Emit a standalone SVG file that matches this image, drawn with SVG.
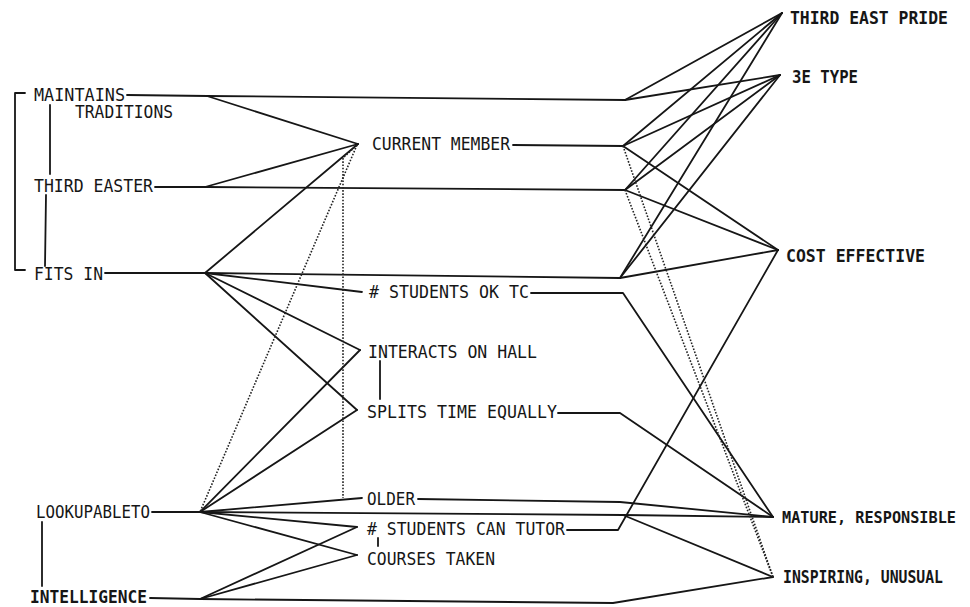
<svg xmlns="http://www.w3.org/2000/svg" width="970" height="607" viewBox="0 0 970 607">
<style>
.bg{fill:#ffffff}
.c{fill:none;stroke:#161616;stroke-width:1.8;stroke-linejoin:round;stroke-linecap:round}
.d{fill:none;stroke:#222;stroke-width:1.6;stroke-dasharray:1.6 1.6}
.t{font-family:"DejaVu Sans Mono","Liberation Mono",monospace;font-size:17px;fill:#161616}
.b{font-weight:bold}
.s{font-size:15.5px}
</style>
<rect class="bg" x="0" y="0" width="970" height="607"/>
<g id="connectors">
  <path class="c" d="M25,93 H15 V270 H25"/>
  <path class="c" d="M50,105 V174"/>
  <path class="c" d="M46,195 L45,266"/>
  <path class="c" d="M42,522 V586"/>
  <path class="c" d="M380,361 V399"/>
  <path class="c" d="M378,538 V546"/>
  <polyline class="c" points="127,95 207,96 625,100"/>
  <line class="c" x1="207" y1="96" x2="358" y2="144"/>
  <polyline class="c" points="155,187 205,187 625,190"/>
  <line class="c" x1="205" y1="187" x2="358" y2="144"/>
  <polyline class="c" points="105,273 205,273 620,278"/>
  <line class="c" x1="205" y1="273" x2="358" y2="144"/>
  <line class="c" x1="205" y1="273" x2="362" y2="292"/>
  <line class="c" x1="205" y1="273" x2="360" y2="350"/>
  <line class="c" x1="205" y1="273" x2="357" y2="410"/>
  <polyline class="c" points="152,512 200,512 623,515"/>
  <line class="c" x1="200" y1="512" x2="362" y2="498"/>
  <line class="c" x1="200" y1="512" x2="360" y2="350"/>
  <line class="c" x1="200" y1="512" x2="357" y2="410"/>
  <line class="c" x1="200" y1="512" x2="357" y2="527"/>
  <line class="c" x1="200" y1="512" x2="357" y2="555"/>
  <polyline class="c" points="150,598 200,599 613,603 773,577"/>
  <line class="c" x1="200" y1="599" x2="357" y2="527"/>
  <line class="c" x1="200" y1="599" x2="357" y2="555"/>
  <polyline class="c" points="513,145 623,146"/>
  <polyline class="c" points="531,293 623,293 773,517"/>
  <polyline class="c" points="558,413 620,413 773,517"/>
  <polyline class="c" points="418,499 620,502 773,517"/>
  <polyline class="c" points="567,530 618,530 778,250"/>
  <line class="c" x1="623" y1="515" x2="773" y2="517"/>
  <line class="c" x1="623" y1="515" x2="773" y2="577"/>
  <line class="c" x1="625" y1="100" x2="782" y2="13"/>
  <line class="c" x1="625" y1="100" x2="780" y2="75"/>
  <line class="c" x1="623" y1="146" x2="782" y2="13"/>
  <line class="c" x1="623" y1="146" x2="780" y2="75"/>
  <line class="c" x1="623" y1="146" x2="778" y2="250"/>
  <line class="c" x1="625" y1="190" x2="782" y2="13"/>
  <line class="c" x1="625" y1="190" x2="780" y2="75"/>
  <line class="c" x1="625" y1="190" x2="778" y2="250"/>
  <line class="c" x1="620" y1="278" x2="782" y2="13"/>
  <line class="c" x1="620" y1="278" x2="780" y2="75"/>
  <line class="c" x1="620" y1="278" x2="778" y2="250"/>
  <line class="d" x1="357" y1="145" x2="200" y2="512"/>
  <polyline class="d" points="357,145 343,158 343,498"/>
  <line class="d" x1="623" y1="146" x2="773" y2="577"/>
  <line class="d" x1="625" y1="190" x2="773" y2="577"/>
</g>
<g id="maintains-traditions">
  <text class="t" x="34" y="101" textLength="91" lengthAdjust="spacingAndGlyphs">MAINTAINS</text>
  <text class="t" x="75" y="118" textLength="98" lengthAdjust="spacingAndGlyphs">TRADITIONS</text>
</g>
<g id="third-easter"><text class="t" x="34" y="192" textLength="119" lengthAdjust="spacingAndGlyphs">THIRD EASTER</text></g>
<g id="fits-in"><text class="t" x="34" y="280" textLength="69" lengthAdjust="spacingAndGlyphs">FITS IN</text></g>
<g id="lookupableto"><text class="t" x="36" y="518" textLength="114" lengthAdjust="spacingAndGlyphs">LOOKUPABLETO</text></g>
<g id="intelligence"><text class="t b" x="30" y="603" textLength="117" lengthAdjust="spacingAndGlyphs">INTELLIGENCE</text></g>
<g id="current-member"><text class="t" x="372" y="150" textLength="138" lengthAdjust="spacingAndGlyphs">CURRENT MEMBER</text></g>
<g id="students-ok-tc"><text class="t" x="369" y="298" textLength="160" lengthAdjust="spacingAndGlyphs"># STUDENTS OK TC</text></g>
<g id="interacts-on-hall"><text class="t" x="368" y="358" textLength="169" lengthAdjust="spacingAndGlyphs">INTERACTS ON HALL</text></g>
<g id="splits-time-equally"><text class="t" x="367" y="418" textLength="190" lengthAdjust="spacingAndGlyphs">SPLITS TIME EQUALLY</text></g>
<g id="older"><text class="t" x="367" y="505" textLength="48" lengthAdjust="spacingAndGlyphs">OLDER</text></g>
<g id="students-can-tutor"><text class="t" x="367" y="535" textLength="198" lengthAdjust="spacingAndGlyphs"># STUDENTS CAN TUTOR</text></g>
<g id="courses-taken"><text class="t" x="367" y="565" textLength="128" lengthAdjust="spacingAndGlyphs">COURSES TAKEN</text></g>
<g id="third-east-pride"><text class="t b" x="790" y="24" textLength="158" lengthAdjust="spacingAndGlyphs">THIRD EAST PRIDE</text></g>
<g id="3e-type"><text class="t b" x="792" y="83" textLength="66" lengthAdjust="spacingAndGlyphs">3E TYPE</text></g>
<g id="cost-effective"><text class="t b" x="786" y="262" textLength="139" lengthAdjust="spacingAndGlyphs">COST EFFECTIVE</text></g>
<g id="mature-responsible"><text class="t b s" x="782" y="523" textLength="174" lengthAdjust="spacingAndGlyphs">MATURE, RESPONSIBLE</text></g>
<g id="inspiring-unusual"><text class="t b" x="783" y="583" textLength="160" lengthAdjust="spacingAndGlyphs">INSPIRING, UNUSUAL</text></g>
</svg>
